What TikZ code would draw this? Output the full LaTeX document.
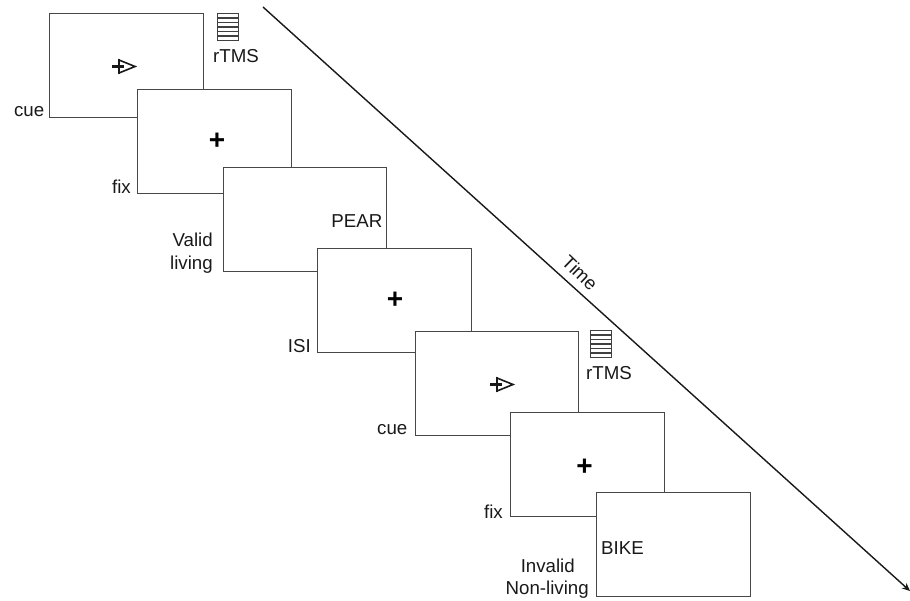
\documentclass[tikz,border=0pt]{standalone}
\usepackage{fontspec}
\setmainfont{Liberation Sans}
\usetikzlibrary{arrows.meta}
\tikzset{
  screen/.style={draw=black!72,line width=1.5pt,fill=white,inner sep=0pt,outer sep=0pt,minimum width=#1,minimum height=104pt,anchor=north west},
  screen/.default=154pt,
  lbl/.style={font=\fontsize{18.7}{20}\selectfont,inner sep=0pt,text=black!90},
  plusmark/.style={font=\fontsize{28}{28}\selectfont\bfseries,inner sep=0pt},
  cueline/.style={line width=2.4pt,black!90},
  coil/.style={draw=black!75,line width=1.4pt,fill=white},
}
\newcommand{\cueglyph}[2]{%
  \draw[cueline] (#1-23,#2) -- (#1-11,#2);
  \draw[line width=1.6pt,black!90,line join=miter] (#1-16,#2-6.5) -- (#1,#2) -- (#1-16,#2+6.5) -- cycle;
  \draw[line width=2.8pt,black!90] (#1-16,#2-7.5) -- (#1-16,#2+7.5);
}
\newcommand{\coilglyph}[2]{%
  \draw[coil] (#1,#2) rectangle (#1+21,#2+27);
  \foreach \k in {1,...,5} \draw[black!75,line width=1.4pt] (#1,#2+4.5*\k) -- (#1+21,#2+4.5*\k);
}
\begin{document}
\begin{tikzpicture}[x=1pt,y=-1pt]
\useasboundingbox (0,0) rectangle (910,600);
\node[screen] (s1) at (49.5,13.5) {};
\node[screen] (s2) at (137.5,89.5) {};
\node[screen=163pt] (s3) at (223.5,167.5) {};
\node[screen] (s4) at (317.5,248.5) {};
\node[screen=163pt] (s5) at (415.5,331.5) {};
\node[screen] (s6) at (510.5,412.5) {};
\node[screen] (s7) at (596.5,492.5) {};

\cueglyph{135}{66.5}
\cueglyph{513}{384.5}
\coilglyph{217.5}{13.5}
\coilglyph{590.5}{330.5}

\node[plusmark] (p1) at (217,141) {+};
\node[plusmark] (p2) at (395,300) {+};
\node[plusmark] (p3) at (584.5,467) {+};

\node[lbl,anchor=base east] (c1) at (44.5,116) {cue};
\node[lbl,anchor=base west] (r1) at (213,62) {rTMS};
\node[lbl,anchor=base east] (f1) at (131,193) {fix};
\node[lbl,anchor=base east] (v1) at (213,246) {Valid};
\node[lbl,anchor=base east] (v2) at (213,269) {living};
\node[lbl,anchor=base east] (w1) at (382.5,227) {PEAR};
\node[lbl,anchor=base east] (i1) at (311,352) {ISI};
\node[lbl,anchor=base west] (r2) at (586,379) {rTMS};
\node[lbl,anchor=base east] (c2) at (407.5,434) {cue};
\node[lbl,anchor=base east] (f2) at (503,518) {fix};
\node[lbl,anchor=base west] (w2) at (601,554) {BIKE};
\node[lbl,anchor=base east] (n1) at (575,572) {Invalid};
\node[lbl,anchor=base east] (n2) at (589,594) {Non-living};

\coordinate (t0) at (263,7);
\coordinate (t1) at (910,591);
\draw[line width=1.4pt,black!90,-{Stealth[length=8pt,width=7pt]}] (t0) -- (t1);
\node[lbl,rotate=-44] (tm) at (580,273) {Time};
\end{tikzpicture}
\end{document}
